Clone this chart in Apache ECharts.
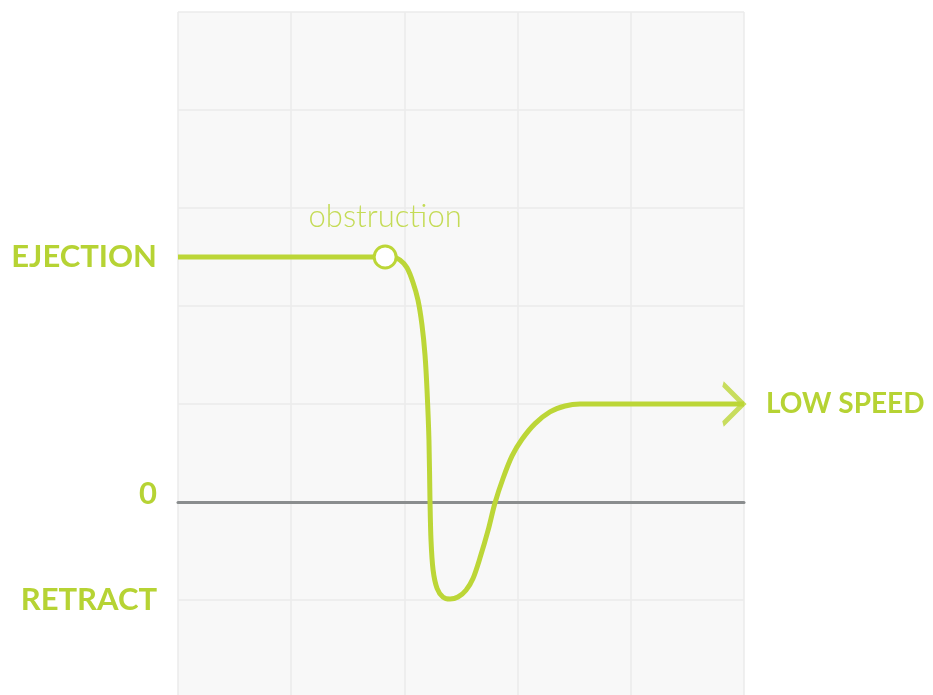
<!DOCTYPE html>
<html><head><meta charset="utf-8">
<script src="https://cdn.jsdelivr.net/npm/echarts@6/dist/echarts.min.js"></script>
<style>html,body{margin:0;padding:0;background:#fff}#c{width:933px;height:695px}</style>
</head><body><div id="c"></div>
<script>
// curve samples (x in time units, y in speed units)
const curveX = [0, 1.83, 1.89, 1.961, 2.023, 2.076, 2.12, 2.155, 2.182, 2.2, 2.217, 2.226, 2.235, 2.253, 2.288, 2.341, 2.403, 2.473, 2.544, 2.606, 2.668, 2.739, 2.8, 2.871, 2.951, 3.039, 3.154, 3.286, 3.419, 3.551, 3.728, 5];
const curveY = [2.5, 2.5, 2.5, 2.47, 2.39, 2.24, 2.06, 1.81, 1.5, 1.14, 0.63, 0.02, -0.39, -0.69, -0.88, -0.97, -0.99, -0.97, -0.9, -0.78, -0.57, -0.29, -0.01, 0.24, 0.47, 0.64, 0.8, 0.92, 0.98, 1.0, 1.0, 1.0];
const eventPoint = [1.83, 2.5];
const eventLabel = 'obstruction';
const endPoint = [5, 1];
const leftTickValues = [2.5, 0, -1];
const leftTickTexts = ['EJECTION', '0', 'RETRACT'];
const rightTickValues = [1];
const rightTickTexts = ['LOW SPEED'];

const green = '#bcd637';
const labelGreen = '#b6d334';
const chart = echarts.init(document.getElementById('c'));
const lookup = (vals, texts) => v => {
  const i = vals.findIndex(t => Math.abs(t - v) < 1e-6);
  if (i < 0) return '';
  return Math.abs(v) < 1e-6 ? '{up|' + texts[i] + '}' : texts[i];
};
const labelFont = { color: labelGreen, fontFamily: 'Lato', fontWeight: 'bold', fontSize: 31 };
chart.setOption({
  animation: false,
  grid: { left: 178, right: 189, top: 12, bottom: -3, show: true, backgroundColor: '#f8f8f8', borderWidth: 0,
    containLabel: false, outerBoundsMode: 'none' },
  xAxis: { type: 'value', min: 0, max: 5, interval: 1,
    axisLine: { show: true, onZero: true, lineStyle: { color: '#8a8d8e', width: 3 } },
    axisTick: { show: false }, axisLabel: { show: false },
    splitLine: { show: true, lineStyle: { color: '#ebebeb', width: 1.5 } } },
  yAxis: [
    { type: 'value', min: -2, max: 5, interval: 1, axisLine: { show: false }, axisTick: { show: false }, axisLabel: { show: false },
      splitLine: { show: true, lineStyle: { color: '#ebebeb', width: 1.5 } } },
    { type: 'value', min: -2, max: 5, interval: 0.5, position: 'left', offset: 0, axisLine: { show: false }, axisTick: { show: false },
      splitLine: { show: false },
      axisLabel: Object.assign({ margin: 21, formatter: lookup(leftTickValues, leftTickTexts),
        rich: { up: { color: labelGreen, fontFamily: 'Lato', fontWeight: 'bold', fontSize: 31, padding: [0, 0, 16, 0] } } }, labelFont) },
    { type: 'value', min: -2, max: 5, interval: 1, position: 'right', axisLine: { show: false }, axisTick: { show: false },
      splitLine: { show: false },
      axisLabel: Object.assign({ margin: 22, formatter: lookup(rightTickValues, rightTickTexts) }, labelFont, { fontSize: 28 }) }
  ],
  series: [
    { type: 'line', data: curveX.map((x, i) => [x, curveY[i]]), smooth: 0.3, showSymbol: false,
      lineStyle: { color: green, width: 5 }, z: 3 },
    { type: 'scatter', data: [endPoint], symbol: 'path://M0,0 L20,20 L0,40', symbolSize: [20, 40], symbolOffset: [-11, 0],
      itemStyle: { color: 'none', borderColor: green, borderWidth: 4.5 }, z: 4 },
    { type: 'scatter', data: [eventPoint], symbol: 'circle', symbolSize: 22,
      itemStyle: { color: '#fff', borderColor: green, borderWidth: 3, opacity: 1 }, z: 5,
      label: { show: true, position: 'top', distance: 12, formatter: eventLabel, color: '#c4db55', fontFamily: 'Lato', fontWeight: 300, fontSize: 31 } }
  ]
});
</script></body></html>
